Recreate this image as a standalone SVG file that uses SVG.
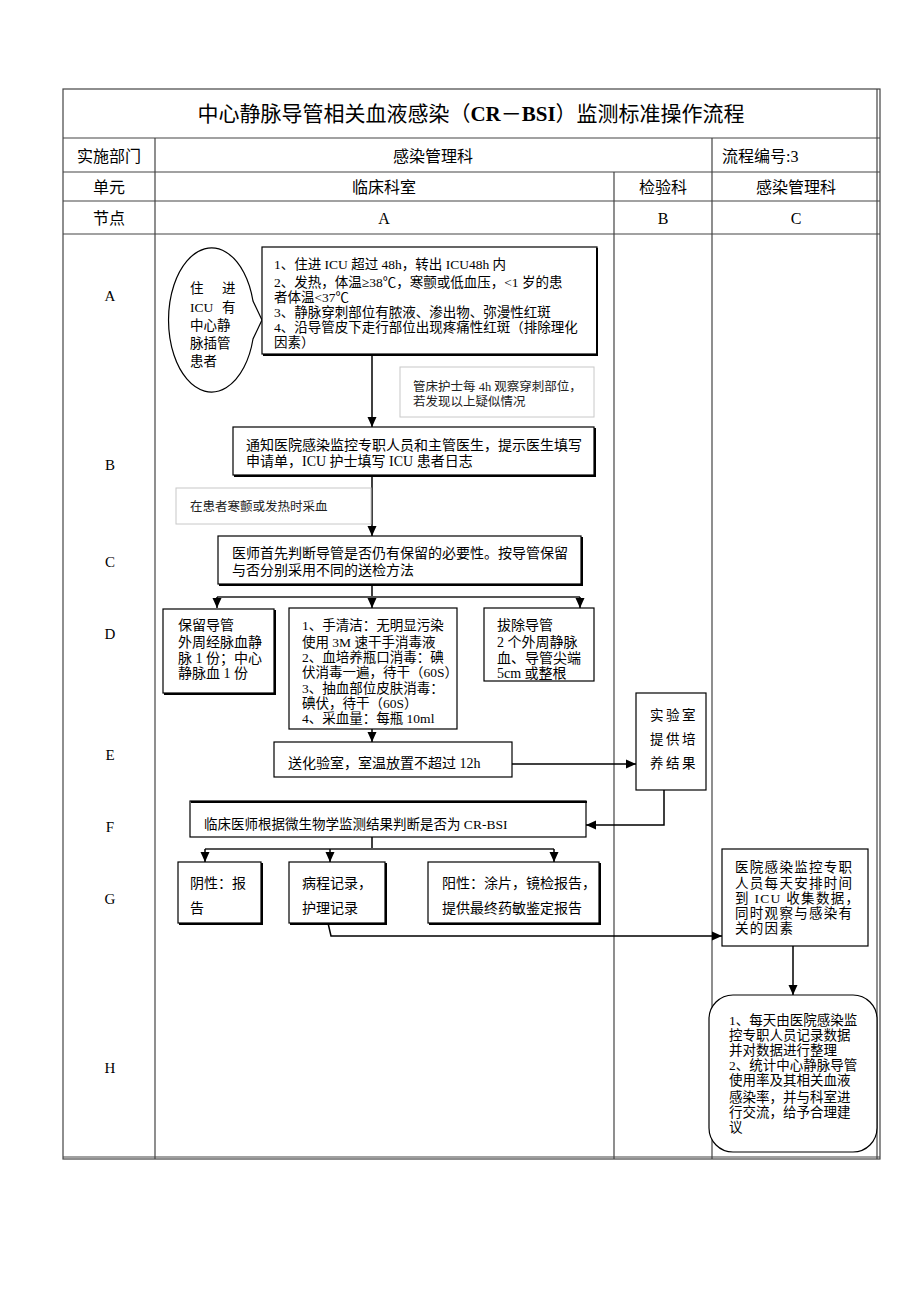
<svg xmlns="http://www.w3.org/2000/svg" width="920" height="1302" viewBox="0 0 920 1302">
<style>
text{font-family:"Liberation Serif","Noto Sans CJK SC",serif;fill:#000}
.hd{font-size:16px}
.lb{font-size:15px;text-anchor:middle}
.mid{text-anchor:middle}
.t14{font-size:14px}
.t13{font-size:13.5px}
.t12{font-size:12.5px;fill:#222}
.tbl{stroke:#444;stroke-width:1.2;fill:none}
.box{fill:#fff;stroke:#000;stroke-width:1.2}
.note{fill:#fff;stroke:#c8c8c8;stroke-width:1}
.sh{fill:none;stroke:#000;stroke-width:2}
.cn{fill:none;stroke:#000;stroke-width:1.5}
.br{fill:none;stroke:#555;stroke-width:2}
</style>
<defs>
<marker id="ah" markerUnits="userSpaceOnUse" markerWidth="10" markerHeight="10" refX="10" refY="5" orient="auto" viewBox="0 0 10 10">
<path d="M0,0.5 L10,5 L0,9.5 z" fill="#000"/>
</marker>
</defs>
<rect width="920" height="1302" fill="#fff"/>

<g id="table">
<rect class="tbl" x="63" y="89" width="817" height="1070"/>
<line class="tbl" x1="877" y1="89" x2="877" y2="1159"/>
<line class="tbl" x1="63" y1="1157" x2="880" y2="1157"/>
<line class="tbl" x1="63" y1="138" x2="880" y2="138"/>
<line class="tbl" x1="63" y1="172" x2="880" y2="172"/>
<line class="tbl" x1="63" y1="201" x2="880" y2="201"/>
<line class="tbl" x1="63" y1="234" x2="880" y2="234"/>
<line class="tbl" x1="155" y1="138" x2="155" y2="1159"/>
<line class="tbl" x1="712" y1="138" x2="712" y2="1159"/>
<line class="tbl" x1="614" y1="172" x2="614" y2="1159"/>
<text x="471" y="121" class="mid" style="font-size:21px">中心静脉导管相关血液感染（<tspan font-weight="bold">CR</tspan>－<tspan font-weight="bold">BSI</tspan>）监测标准操作流程</text>
<text x="109" y="162" class="hd mid">实施部门</text>
<text x="433" y="162" class="hd mid">感染管理科</text>
<text x="722" y="162" class="hd">流程编号:3</text>
<text x="109" y="193" class="hd mid">单元</text>
<text x="384" y="193" class="hd mid">临床科室</text>
<text x="663" y="193" class="hd mid">检验科</text>
<text x="796" y="193" class="hd mid">感染管理科</text>
<text x="109" y="224" class="hd mid">节点</text>
<text x="384" y="224" class="hd mid">A</text>
<text x="663" y="224" class="hd mid">B</text>
<text x="796" y="224" class="hd mid">C</text>
<text x="110" y="301" class="lb">A</text>
<text x="110" y="470" class="lb">B</text>
<text x="110" y="567" class="lb">C</text>
<text x="110" y="639" class="lb">D</text>
<text x="110" y="760" class="lb">E</text>
<text x="110" y="832" class="lb">F</text>
<text x="110" y="904" class="lb">G</text>
<text x="110" y="1073" class="lb">H</text>
</g>

<g id="connectors">
<line class="cn" x1="372" y1="354" x2="372" y2="427" marker-end="url(#ah)"/>
<line class="cn" x1="372" y1="475" x2="372" y2="536" marker-end="url(#ah)"/>
<line class="cn" x1="372" y1="584" x2="372" y2="608" marker-end="url(#ah)"/>
<line class="br" x1="217" y1="597" x2="580" y2="597"/>
<line class="cn" x1="217" y1="597" x2="217" y2="608" marker-end="url(#ah)"/>
<line class="cn" x1="580" y1="597" x2="580" y2="608" marker-end="url(#ah)"/>
<line class="cn" x1="372" y1="729" x2="372" y2="742" marker-end="url(#ah)"/>
<line class="cn" x1="512" y1="764" x2="636" y2="764" marker-end="url(#ah)"/>
<polyline class="cn" points="664,790 664,825 586,825" marker-end="url(#ah)"/>
<line class="cn" x1="372" y1="837" x2="372" y2="849"/>
<line class="br" x1="205" y1="849" x2="554" y2="849"/>
<line class="cn" x1="205" y1="849" x2="205" y2="862" marker-end="url(#ah)"/>
<line class="cn" x1="330" y1="849" x2="330" y2="862" marker-end="url(#ah)"/>
<line class="cn" x1="554" y1="849" x2="554" y2="862" marker-end="url(#ah)"/>
<polyline class="cn" points="328,923 331,936 722,936" marker-end="url(#ah)"/>
<line class="cn" x1="793" y1="946" x2="793" y2="995" marker-end="url(#ah)"/>
</g>

<g id="n-patient">
<path class="box" d="M253,301 A43,72 0 1 0 253,339 L262,320 Z"/>
<text class="t13" x="190" y="293">住</text>
<text class="t13" x="222" y="293">进</text>
<text class="t13" x="190" y="312">ICU</text>
<text class="t13" x="222" y="312">有</text>
<text class="t13" x="190" y="330">中心静</text>
<text class="t13" x="190" y="348">脉插管</text>
<text class="t13" x="190" y="366">患者</text>
</g>

<g id="n-criteria">
<rect class="box" x="262" y="247" width="335" height="107"/>
<polyline class="sh" points="597,248 597,355 263,355"/>
<text class="t13" x="274" y="269">1、住进 ICU 超过 48h，转出 ICU48h 内</text>
<text class="t13" x="274" y="287">2、发热，体温≥38℃，寒颤或低血压，&lt;1 岁的患</text>
<text class="t13" x="274" y="302">者体温&lt;37℃</text>
<text class="t13" x="274" y="317">3、静脉穿刺部位有脓液、渗出物、弥漫性红斑</text>
<text class="t13" x="274" y="332">4、沿导管皮下走行部位出现疼痛性红斑（排除理化</text>
<text class="t13" x="274" y="347">因素）</text>
</g>

<g id="n-note1">
<rect class="note" x="400" y="367" width="194" height="50"/>
<text class="t12" x="413" y="391">管床护士每 4h 观察穿刺部位，</text>
<text class="t12" x="413" y="406">若发现以上疑似情况</text>
</g>

<g id="n-notify">
<rect class="box" x="233" y="427" width="361" height="48"/>
<polyline class="sh" points="595,428 595,476 234,476"/>
<text class="t14" x="246" y="450">通知医院感染监控专职人员和主管医生，提示医生填写</text>
<text class="t14" x="246" y="466">申请单，ICU 护士填写 ICU 患者日志</text>
</g>

<g id="n-note2">
<rect class="note" x="176" y="488" width="195" height="36"/>
<text class="t12" x="190" y="511">在患者寒颤或发热时采血</text>
</g>

<g id="n-judge">
<rect class="box" x="218" y="536" width="363" height="48"/>
<polyline class="sh" points="582,537 582,585 219,585"/>
<text class="t14" x="232" y="558">医师首先判断导管是否仍有保留的必要性。按导管保留</text>
<text class="t14" x="232" y="575">与否分别采用不同的送检方法</text>
</g>

<g id="n-keep">
<rect class="box" x="163" y="609" width="111" height="84"/>
<polyline class="sh" points="275,610 275,694 164,694"/>
<text class="t14" x="178" y="630">保留导管</text>
<text class="t14" x="178" y="647">外周经脉血静</text>
<text class="t14" x="178" y="663">脉 1 份；中心</text>
<text class="t14" x="178" y="678">静脉血 1 份</text>
</g>

<g id="n-steps">
<rect class="box" x="289" y="608" width="168" height="121"/>
<text class="t13" x="302" y="630">1、手清洁：无明显污染</text>
<text class="t13" x="302" y="647">使用 3M 速干手消毒液</text>
<text class="t13" x="302" y="662">2、血培养瓶口消毒：碘</text>
<text class="t13" x="302" y="677">伏消毒一遍，待干（60S）</text>
<text class="t13" x="302" y="693">3、抽血部位皮肤消毒：</text>
<text class="t13" x="302" y="708">碘伏，待干（60S）</text>
<text class="t13" x="302" y="723">4、采血量：每瓶 10ml</text>
</g>

<g id="n-remove">
<rect class="box" x="484" y="608" width="110" height="73"/>
<text class="t14" x="497" y="630">拔除导管</text>
<text class="t14" x="497" y="647">2 个外周静脉</text>
<text class="t14" x="497" y="663">血、导管尖端</text>
<text class="t14" x="497" y="678">5cm 或整根</text>
</g>

<g id="n-send">
<rect class="box" x="274" y="742" width="238" height="35"/>
<text class="t14" x="288" y="768">送化验室，室温放置不超过 12h</text>
</g>

<g id="n-lab">
<rect class="box" x="636" y="693" width="70" height="97"/>
<text class="t13" x="650" y="720" letter-spacing="2.5">实验室</text>
<text class="t13" x="650" y="744" letter-spacing="2.5">提供培</text>
<text class="t13" x="650" y="768" letter-spacing="2.5">养结果</text>
</g>

<g id="n-result">
<rect class="box" x="190" y="801" width="396" height="36"/>
<polyline class="sh" points="191,802 586,802 586,803"/>
<text class="t13" x="204" y="829">临床医师根据微生物学监测结果判断是否为 CR-BSI</text>
</g>

<g id="n-neg">
<rect class="box" x="178" y="862" width="83" height="61"/>
<polyline class="sh" points="262,863 262,924 179,924"/>
<text class="t14" x="190" y="888">阴性：报</text>
<text class="t14" x="190" y="913">告</text>
</g>

<g id="n-record">
<rect class="box" x="289" y="862" width="96" height="61"/>
<polyline class="sh" points="386,863 386,924 290,924"/>
<text class="t14" x="302" y="888">病程记录，</text>
<text class="t14" x="302" y="913">护理记录</text>
</g>

<g id="n-pos">
<rect class="box" x="428" y="862" width="171" height="61"/>
<polyline class="sh" points="600,863 600,924 429,924"/>
<text class="t14" x="442" y="888">阳性：涂片，镜检报告，</text>
<text class="t14" x="442" y="913">提供最终药敏鉴定报告</text>
</g>

<g id="n-collect">
<rect class="box" x="722" y="849" width="146" height="97"/>
<text class="t13" x="735" y="872" letter-spacing="1.3">医院感染监控专职</text>
<text class="t13" x="735" y="888" letter-spacing="1.3">人员每天安排时间</text>
<text class="t13" x="735" y="903" letter-spacing="1.3">到 ICU 收集数据，</text>
<text class="t13" x="735" y="918" letter-spacing="1.3">同时观察与感染有</text>
<text class="t13" x="735" y="933" letter-spacing="1.3">关的因素</text>
</g>

<g id="n-stats">
<rect class="box" x="709" y="995" width="168" height="157" rx="24" ry="24"/>
<text class="t13" x="729" y="1025">1、每天由医院感染监</text>
<text class="t13" x="729" y="1040">控专职人员记录数据</text>
<text class="t13" x="729" y="1055">并对数据进行整理</text>
<text class="t13" x="729" y="1070">2、统计中心静脉导管</text>
<text class="t13" x="729" y="1085">使用率及其相关血液</text>
<text class="t13" x="729" y="1102">感染率，并与科室进</text>
<text class="t13" x="729" y="1117">行交流，给予合理建</text>
<text class="t13" x="729" y="1132">议</text>
</g>
</svg>
